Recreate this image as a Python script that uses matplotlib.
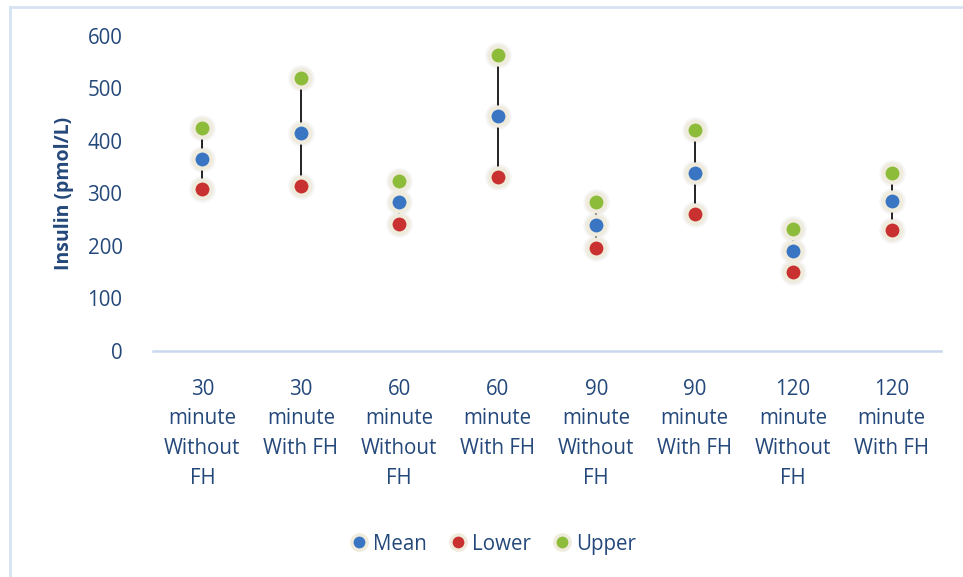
import matplotlib.pyplot as plt
from matplotlib.lines import Line2D

# insulin (pmol/L) per time point and family history group
categories = ['30\nminute\nWithout\nFH', '30\nminute\nWith FH',
              '60\nminute\nWithout\nFH', '60\nminute\nWith FH',
              '90\nminute\nWithout\nFH', '90\nminute\nWith FH',
              '120\nminute\nWithout\nFH', '120\nminute\nWith FH']
mean = [366, 415, 284, 448, 240, 339, 190, 286]
lower = [309, 314, 242, 331, 196, 261, 150, 230]
upper = [425, 520, 324, 564, 284, 421, 232, 339]
yticks = [0, 100, 200, 300, 400, 500, 600]

TEXT = '#24487a'
AXIS = '#c9d8ee'
HALO = '#efebdd'

plt.rcParams['font.family'] = ['Open Sans', 'DejaVu Sans']

fig = plt.figure(figsize=(9.63, 5.77), dpi=100)
ax = fig.add_axes([0.159, 0.392, 0.818, 0.546])

x = list(range(len(categories)))
series = [('Mean', mean, '#3a75c4'), ('Lower', lower, '#c8312f'), ('Upper', upper, '#8dbb3a')]
for name, vals, col in series:
    # soft shadow under each marker
    ax.plot(x, vals, 'o', ms=19, color='#ececec', alpha=0.5, mec='none', zorder=2)
ax.vlines(x, lower, upper, color='#222222', lw=1.4, zorder=3)
for name, vals, col in series:
    ax.plot(x, vals, 'o', ms=13, color=col, mec=HALO, mew=3, zorder=4)

ax.set_xlim(-0.5, len(categories) - 0.5)
ax.set_ylim(0, 600)
ax.set_yticks(yticks)
ax.set_xticks(x)
ax.set_xticklabels(categories, linespacing=1.55)
ax.tick_params(axis='both', length=0, labelsize=14.8, colors=TEXT)
ax.tick_params(axis='y', pad=22)
ax.tick_params(axis='x', pad=20)
for s in ['top', 'right', 'left']:
    ax.spines[s].set_visible(False)
ax.spines['bottom'].set_color(AXIS)
ax.spines['bottom'].set_linewidth(1.8)
ax.set_ylabel('Insulin (pmol/L)', fontsize=14, fontweight='bold', color=TEXT, labelpad=10)

handles = [Line2D([], [], ls='none', marker='o', ms=11, color=c, mec=HALO, mew=2.5)
           for _, _, c in series]
fig.legend(handles, [s[0] for s in series], loc='center', bbox_to_anchor=(0.51, 0.057),
           ncol=3, frameon=False, fontsize=14.8, labelcolor=TEXT,
           handletextpad=0.1, columnspacing=0.9, handlelength=1.2)

# chart area border
fig.add_artist(Line2D([0.0105, 0.0105], [0, 0.988], color='#d6e2f2', lw=2))
fig.add_artist(Line2D([0.0105, 1], [0.988, 0.988], color='#d6e2f2', lw=2))

fig.savefig('out.png', dpi=100)
